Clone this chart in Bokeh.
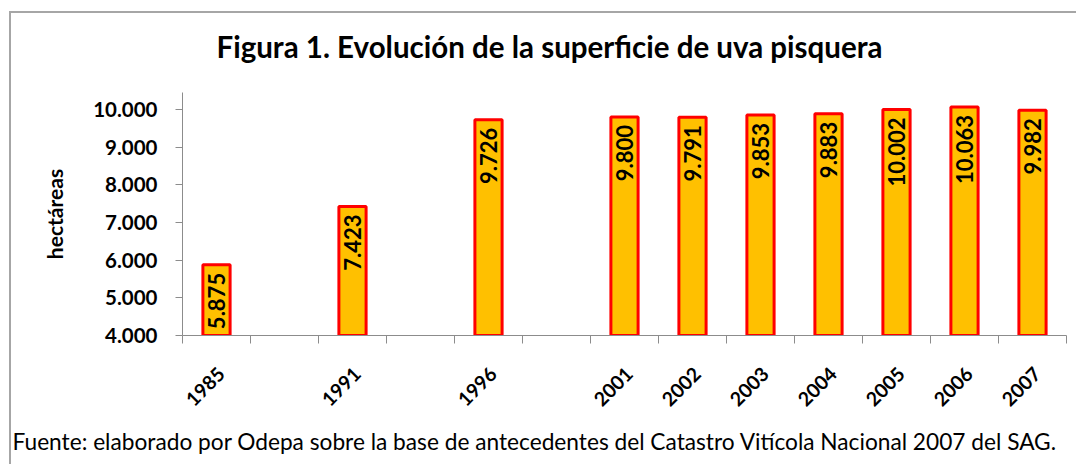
from math import pi
from bokeh.plotting import figure
from bokeh.models import (ColumnDataSource, Range1d, LinearAxis, FixedTicker, Title,
                          CustomJSTickFormatter)
from bokeh.core.properties import value
from bokeh.embed import file_html
from bokeh.resources import INLINE

# ---- data ----
categories = ["1985", "", "1991", "", "1996", "", "2001", "2002", "2003",
              "2004", "2005", "2006", "2007"]
values = [5875, None, 7423, None, 9726, None, 9800, 9791, 9853,
          9883, 10002, 10063, 9982]
y_ticks = [4000, 5000, 6000, 7000, 8000, 9000, 10000]
title_text = "Figura 1. Evolución de la superficie de uva pisquera"
y_title = "hectáreas"
source_text = ("Fuente: elaborado por Odepa sobre la base de antecedentes del "
               "Catastro Vitícola Nacional 2007 del SAG.")

FONT = "Lato"
GRAY = "#8c8c8c"
LABEL_SHIFT = 0.07  # small visual shift of the rotated year labels

idx = [i for i, v in enumerate(values) if v is not None]
src = ColumnDataSource(dict(
    x=idx,
    top=[values[i] for i in idx],
    lab=[f"{values[i]:,}".replace(",", ".") for i in idx],
))

W, H = 1067, 453
p = figure(width=W, height=H, output_backend="svg", toolbar_location=None,
           x_range=Range1d(-0.5, len(categories) - 0.5),
           y_range=Range1d(y_ticks[0], 10450),
           x_axis_type=None, y_axis_type=None,
           min_border_left=171, min_border_right=12,
           min_border_top=79, min_border_bottom=131,
           background_fill_color="white", border_fill_color="white",
           styles={"border-left": "2px solid #a6a6a6",
                   "border-top": "2px solid #a6a6a6",
                   "margin-top": "11px", "margin-left": "9px"})
p.outline_line_color = None

# y axis
ya = LinearAxis(ticker=FixedTicker(ticks=y_ticks, minor_ticks=[]))
ya.major_label_overrides = {v: f"{v:,}".replace(",", ".") for v in y_ticks}
ya.major_label_text_font = FONT
ya.major_label_text_font_style = "bold"
ya.major_label_text_font_size = "20.5px"
ya.major_label_text_color = "black"
ya.major_tick_out = 7
ya.major_tick_in = 0
ya.major_tick_line_color = GRAY
ya.axis_line_color = GRAY
ya.major_label_standoff = 18
ya.axis_label = y_title
ya.axis_label_text_font = FONT
ya.axis_label_text_font_style = "bold"
ya.axis_label_text_font_size = "21px"
ya.axis_label_text_color = "black"
ya.axis_label_standoff = 23
p.add_layout(ya, "left")

# x axis
xa = LinearAxis(ticker=FixedTicker(
    ticks=[i + LABEL_SHIFT for i, c in enumerate(categories) if c],
    minor_ticks=[i - 0.5 for i in range(len(categories) + 1)]))
xa.formatter = CustomJSTickFormatter(args=dict(labels=categories),
                                     code="return labels[Math.round(tick)] || '';")
xa.major_label_orientation = pi / 4
xa.major_label_text_font = FONT
xa.major_label_text_font_style = "bold"
xa.major_label_text_font_size = "19.5px"
xa.major_label_text_color = "black"
xa.major_label_standoff = 27
xa.major_tick_out = 0
xa.major_tick_in = 0
xa.minor_tick_out = 8
xa.minor_tick_in = 0
xa.minor_tick_line_color = GRAY
xa.axis_line_color = GRAY
p.add_layout(xa, "below")

p.ygrid.ticker = FixedTicker(ticks=y_ticks)
p.ygrid.grid_line_color = GRAY
p.xgrid.grid_line_color = None

p.vbar(x="x", top="top", bottom=y_ticks[0], width=0.40, source=src,
       fill_color="#FFC000", line_color="#FF0000", line_width=3)

p.text(x="x", y="top", text="lab", source=src, angle=pi / 2,
       text_align="right", text_baseline="middle", y_offset=8,
       text_font=value(FONT), text_font_style="bold",
       text_font_size="22px", text_color="black")

# spacer between the frame and the title (nearest the frame)
p.add_layout(Title(text=" ", standoff=15, text_font=FONT,
                   text_font_size="10px", text_color="white"), "above")
p.add_layout(Title(text=title_text, align="left", offset=34, standoff=0,
                   text_font=FONT, text_font_style="bold",
                   text_font_size="29.5px", text_color="black"), "above")

p.add_layout(Title(text=source_text, align="left", offset=-170, standoff=20,
                   text_font=FONT, text_font_style="normal",
                   text_font_size="22.7px", text_color="black"), "below")

open("out.html", "w").write(file_html(p, INLINE))
